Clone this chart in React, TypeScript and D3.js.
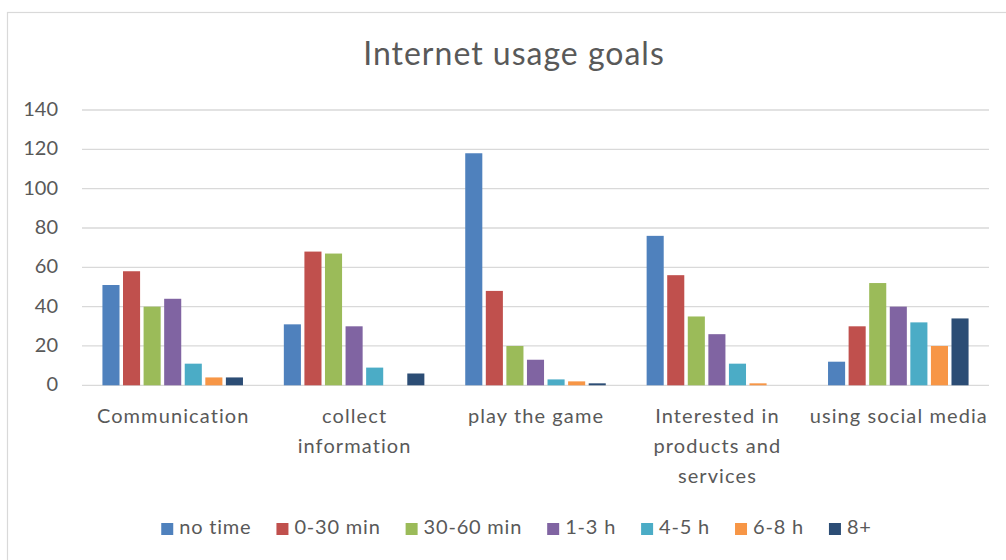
import React, { useEffect, useRef } from "react";
import * as d3 from "d3";

const categories = [
  "Communication",
  "collect information",
  "play the game",
  "Interested in products and services",
  "using social media",
];
const categoryLines = [
  ["Communication"],
  ["collect", "information"],
  ["play the game"],
  ["Interested in", "products and", "services"],
  ["using social media"],
];
const seriesNames = ["no time", "0-30 min", "30-60 min", "1-3 h", "4-5 h", "6-8 h", "8+"];
const seriesColors = ["#4F81BD", "#C0504D", "#9BBB59", "#8064A2", "#4BACC6", "#F79646", "#2C4D75"];

const noTime = [51, 31, 118, 76, 12];
const min0to30 = [58, 68, 48, 56, 30];
const min30to60 = [40, 67, 20, 35, 52];
const h1to3 = [44, 30, 13, 26, 40];
const h4to5 = [11, 9, 3, 11, 32];
const h6to8 = [4, 0, 2, 1, 20];
const h8plus = [4, 6, 1, 0, 34];
const seriesValues = [noTime, min0to30, min30to60, h1to3, h4to5, h6to8, h8plus];

const yTicks = [0, 20, 40, 60, 80, 100, 120, 140];
const title = "Internet usage goals";

const W = 1006;
const H = 560;
const FONT = "Lato, 'Open Sans', sans-serif";
const TEXT = "#595959";
const GRID = "#d9d9d9";

export default function App() {
  const ref = useRef<SVGSVGElement>(null);

  useEffect(() => {
    const svg = d3.select(ref.current);
    svg.selectAll("*").remove();

    svg.append("rect").attr("x", 0).attr("y", 0).attr("width", W).attr("height", H).attr("fill", "#fff");
    svg
      .append("rect")
      .attr("x", 7.5)
      .attr("y", 12.5)
      .attr("width", W + 20)
      .attr("height", H + 20)
      .attr("fill", "#fff")
      .attr("stroke", GRID)
      .attr("stroke-width", 1.2);

    const x0 = d3.scaleBand<string>().domain(categories).range([82, 989]).paddingInner(0.206).paddingOuter(0.103);
    const x1 = d3
      .scaleBand<string>()
      .domain(seriesNames)
      .range([0, x0.bandwidth()])
      .paddingInner(0.17)
      .paddingOuter(0.085);
    const y = d3.scaleLinear().domain([0, 140]).range([385.3, 110]);

    // title
    svg
      .append("text")
      .attr("x", 514)
      .attr("y", 65)
      .attr("text-anchor", "middle")
      .attr("font-family", FONT)
      .attr("font-size", 32)
      .attr("letter-spacing", 1)
      .attr("fill", TEXT)
      .text(title);

    // gridlines
    svg
      .append("g")
      .selectAll("line")
      .data(yTicks)
      .join("line")
      .attr("x1", 82)
      .attr("x2", 989)
      .attr("y1", (d) => y(d))
      .attr("y2", (d) => y(d))
      .attr("stroke", GRID)
      .attr("stroke-width", 1.3);

    // y labels
    svg
      .append("g")
      .selectAll("text")
      .data(yTicks)
      .join("text")
      .attr("x", 58)
      .attr("y", (d) => y(d) + 6)
      .attr("text-anchor", "end")
      .attr("font-family", FONT)
      .attr("font-size", 20)
      .attr("fill", TEXT)
      .text((d) => String(d));

    // bars
    const groups = svg
      .append("g")
      .selectAll("g")
      .data(categories)
      .join("g")
      .attr("transform", (c) => `translate(${x0(c)},0)`);
    groups
      .selectAll("rect")
      .data((c) => seriesNames.map((s, si) => ({ s, si, v: seriesValues[si][categories.indexOf(c)] })))
      .join("rect")
      .attr("x", (d) => x1(d.s)!)
      .attr("width", x1.bandwidth())
      .attr("y", (d) => y(d.v))
      .attr("height", (d) => y(0) - y(d.v))
      .attr("fill", (d) => seriesColors[d.si]);

    // category labels
    categories.forEach((c, ci) => {
      const t = svg
        .append("text")
        .attr("text-anchor", "middle")
        .attr("font-family", FONT)
        .attr("font-size", 20)
        .attr("letter-spacing", 1.1)
        .attr("fill", TEXT);
      categoryLines[ci].forEach((line, li) => {
        t.append("tspan")
          .attr("x", x0(c)! + x0.bandwidth() / 2 + 0.5)
          .attr("y", 423 + li * 30)
          .text(line);
      });
    });

    // legend
    const lg = svg.append("g");
    let cx = 0;
    seriesNames.forEach((s, si) => {
      const g = lg.append("g");
      g.append("rect")
        .attr("x", cx)
        .attr("y", 523)
        .attr("width", 12)
        .attr("height", 12)
        .attr("fill", seriesColors[si]);
      const t = g
        .append("text")
        .attr("x", cx + 18)
        .attr("y", 534)
        .attr("font-family", FONT)
        .attr("font-size", 20)
        .attr("letter-spacing", 0.8)
        .attr("fill", TEXT)
        .text(s);
      const w = (t.node() as SVGTextElement).getComputedTextLength();
      cx += 18 + w + 25;
    });
    const total = cx - 25;
    lg.attr("transform", `translate(${516.5 - total / 2},0)`);
  }, []);

  return (
    <svg
      ref={ref}
      width={W}
      height={H}
      style={{ position: "absolute", left: 0, top: 0, display: "block" }}
    />
  );
}
